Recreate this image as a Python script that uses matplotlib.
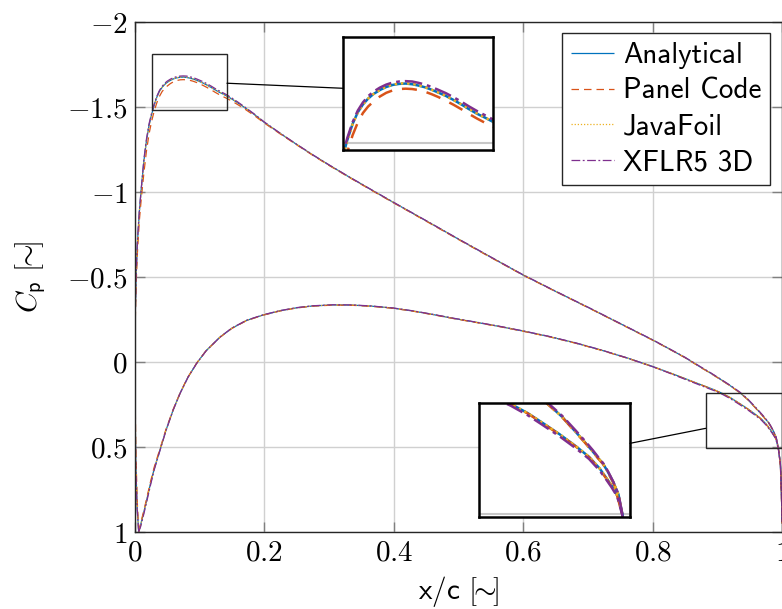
import matplotlib
matplotlib.use("Agg")
import matplotlib.pyplot as plt
from matplotlib.patches import Rectangle, ConnectionPatch

plt.rcParams["mathtext.fontset"] = "cm"
plt.rcParams["font.size"] = 21

# chordwise stations, upper surface (leading edge -> trailing edge)
x_up = [0.0060, 0.0035, 0.0015, 0.0005, 0.0002, 0.0008, 0.0020, 0.0040, 0.0070, 0.0100,
        0.0140, 0.0180, 0.0220, 0.0260, 0.0300, 0.0340, 0.0380, 0.0420, 0.0460, 0.0500,
        0.0550, 0.0600, 0.0650, 0.0700, 0.0750, 0.0800, 0.0850, 0.0900, 0.0950, 0.1000,
        0.1060, 0.1120, 0.1180, 0.1240, 0.1300, 0.1360, 0.1420, 0.1500, 0.1600, 0.1700,
        0.1850, 0.2000, 0.2250, 0.2500, 0.2750, 0.3000, 0.3300, 0.3650, 0.4000, 0.4500,
        0.5000, 0.5500, 0.6000, 0.6500, 0.7000, 0.7500, 0.8000, 0.8250, 0.8500, 0.8750,
        0.8900, 0.9050, 0.9200, 0.9350, 0.9470, 0.9580, 0.9650, 0.9710, 0.9750, 0.9790,
        0.9830, 0.9870, 0.9910, 0.9943, 0.9975, 0.9992, 1.0000]

# chordwise stations, lower surface
x_lo = [0.0060, 0.0090, 0.0130, 0.0180, 0.0240, 0.0300, 0.0389, 0.0480, 0.0592, 0.0700,
        0.0820, 0.0956, 0.1100, 0.1317, 0.1500, 0.1728, 0.1985, 0.2250, 0.2500, 0.2750,
        0.3066, 0.3350, 0.3650, 0.3993, 0.4300, 0.4600, 0.4920, 0.5300, 0.5640, 0.6002,
        0.6400, 0.6800, 0.7200, 0.7600, 0.8007, 0.8300, 0.8600, 0.8800, 0.8950, 0.9069,
        0.9200, 0.9316, 0.9450, 0.9579, 0.9680, 0.9762, 0.9810, 0.9855, 0.9900, 0.9920,
        0.9943, 0.9975, 0.9992, 1.0000]

cp_up_analytical = [1.00, 0.85, 0.60, 0.30, 0.00, -0.30, -0.50, -0.70, -0.88, -1.02,
                    -1.18, -1.30, -1.39, -1.455, -1.510, -1.556, -1.590, -1.613, -1.630, -1.643,
                    -1.655, -1.664, -1.670, -1.673, -1.674, -1.672, -1.668, -1.663, -1.656, -1.648,
                    -1.638, -1.626, -1.613, -1.599, -1.586, -1.575, -1.563, -1.545, -1.520, -1.494,
                    -1.453, -1.408, -1.342, -1.278, -1.216, -1.157, -1.089, -1.012, -0.936, -0.829,
                    -0.721, -0.615, -0.510, -0.414, -0.320, -0.224, -0.128, -0.077, -0.025, 0.034,
                    0.068, 0.104, 0.141, 0.182, 0.222, 0.267, 0.296, 0.322, 0.340, 0.357,
                    0.382, 0.410, 0.445, 0.507, 0.600, 0.780, 0.950]
cp_lo_analytical = [1.00, 0.96, 0.90, 0.82, 0.72, 0.63, 0.519, 0.405, 0.284, 0.185,
                    0.092, 0.009, -0.064, -0.145, -0.197, -0.243, -0.275, -0.300, -0.317, -0.328,
                    -0.334, -0.333, -0.327, -0.315, -0.298, -0.278, -0.255, -0.230, -0.207, -0.180,
                    -0.148, -0.111, -0.069, -0.023, 0.029, 0.070, 0.114, 0.143, 0.165, 0.185,
                    0.211, 0.239, 0.272, 0.307, 0.337, 0.370, 0.395, 0.419, 0.447, 0.473,
                    0.507, 0.600, 0.780, 0.950]

cp_up_panel = [1.00, 0.80, 0.50, 0.20, -0.05, -0.25, -0.45, -0.64, -0.83, -0.96,
               -1.11, -1.24, -1.34, -1.415, -1.475, -1.523, -1.560, -1.588, -1.607, -1.621,
               -1.636, -1.647, -1.654, -1.658, -1.659, -1.658, -1.655, -1.650, -1.643, -1.635,
               -1.624, -1.612, -1.599, -1.585, -1.572, -1.560, -1.549, -1.533, -1.510, -1.486,
               -1.447, -1.404, -1.339, -1.276, -1.214, -1.155, -1.087, -1.010, -0.934, -0.827,
               -0.719, -0.613, -0.509, -0.413, -0.319, -0.223, -0.127, -0.076, -0.024, 0.035,
               0.069, 0.105, 0.142, 0.183, 0.223, 0.268, 0.297, 0.323, 0.341, 0.358,
               0.383, 0.412, 0.447, 0.509, 0.610, 0.790, 0.950]
cp_lo_panel = [1.00, 0.95, 0.89, 0.81, 0.71, 0.62, 0.512, 0.400, 0.281, 0.183,
               0.091, 0.008, -0.064, -0.144, -0.196, -0.242, -0.274, -0.299, -0.316, -0.327,
               -0.333, -0.332, -0.326, -0.314, -0.297, -0.277, -0.254, -0.229, -0.206, -0.179,
               -0.147, -0.110, -0.068, -0.022, 0.030, 0.071, 0.115, 0.144, 0.166, 0.186,
               0.212, 0.240, 0.273, 0.308, 0.338, 0.372, 0.397, 0.421, 0.449, 0.476,
               0.509, 0.610, 0.790, 0.950]

cp_up_javafoil = [1.00, 0.84, 0.59, 0.29, 0.00, -0.31, -0.51, -0.70, -0.88, -1.01,
                  -1.17, -1.30, -1.39, -1.455, -1.509, -1.555, -1.589, -1.613, -1.630, -1.643,
                  -1.655, -1.665, -1.671, -1.674, -1.675, -1.673, -1.669, -1.663, -1.656, -1.648,
                  -1.638, -1.626, -1.613, -1.600, -1.587, -1.575, -1.564, -1.546, -1.521, -1.494,
                  -1.453, -1.408, -1.342, -1.278, -1.216, -1.156, -1.089, -1.012, -0.936, -0.829,
                  -0.721, -0.615, -0.511, -0.414, -0.320, -0.224, -0.128, -0.077, -0.025, 0.034,
                  0.068, 0.104, 0.141, 0.182, 0.222, 0.267, 0.296, 0.322, 0.340, 0.357,
                  0.382, 0.410, 0.446, 0.507, 0.600, 0.780, 0.950]
cp_lo_javafoil = [1.00, 0.96, 0.90, 0.82, 0.72, 0.63, 0.518, 0.404, 0.284, 0.185,
                  0.092, 0.009, -0.064, -0.145, -0.197, -0.243, -0.275, -0.300, -0.317, -0.328,
                  -0.334, -0.333, -0.327, -0.315, -0.298, -0.278, -0.255, -0.230, -0.207, -0.180,
                  -0.148, -0.111, -0.069, -0.023, 0.029, 0.070, 0.114, 0.143, 0.165, 0.185,
                  0.211, 0.239, 0.272, 0.307, 0.337, 0.370, 0.395, 0.419, 0.447, 0.473,
                  0.507, 0.600, 0.780, 0.950]

cp_up_xflr5 = [1.00, 0.86, 0.62, 0.32, 0.01, -0.30, -0.51, -0.71, -0.89, -1.02,
               -1.19, -1.31, -1.40, -1.463, -1.516, -1.561, -1.595, -1.619, -1.637, -1.650,
               -1.662, -1.671, -1.677, -1.680, -1.681, -1.680, -1.676, -1.671, -1.664, -1.656,
               -1.646, -1.634, -1.621, -1.607, -1.594, -1.582, -1.570, -1.551, -1.525, -1.498,
               -1.456, -1.410, -1.343, -1.279, -1.217, -1.158, -1.090, -1.013, -0.937, -0.830,
               -0.722, -0.616, -0.511, -0.415, -0.321, -0.225, -0.129, -0.078, -0.026, 0.032,
               0.066, 0.102, 0.139, 0.179, 0.219, 0.263, 0.292, 0.318, 0.337, 0.355,
               0.380, 0.409, 0.445, 0.507, 0.600, 0.780, 0.950]
cp_lo_xflr5 = [1.00, 0.97, 0.91, 0.83, 0.73, 0.635, 0.522, 0.407, 0.285, 0.186,
               0.093, 0.010, -0.063, -0.145, -0.198, -0.244, -0.276, -0.301, -0.318, -0.329,
               -0.335, -0.334, -0.328, -0.316, -0.299, -0.279, -0.256, -0.231, -0.208, -0.181,
               -0.149, -0.112, -0.070, -0.023, 0.030, 0.073, 0.118, 0.148, 0.170, 0.190,
               0.217, 0.245, 0.278, 0.313, 0.343, 0.376, 0.400, 0.424, 0.451, 0.477,
               0.509, 0.600, 0.780, 0.950]

labels = ["Analytical", "Panel Code", "JavaFoil", "XFLR5 3D"]
colors = ["#0072BD", "#D95319", "#EDB120", "#7E2F8E"]
styles = [(0, ()), (0, (6, 4)), (0, (1, 1.5)), (0, (7, 2, 1.5, 2))]
upper = [cp_up_analytical, cp_up_panel, cp_up_javafoil, cp_up_xflr5]
lower = [cp_lo_analytical, cp_lo_panel, cp_lo_javafoil, cp_lo_xflr5]

xticks = [0, 0.2, 0.4, 0.6, 0.8, 1]
yticks = [-2, -1.5, -1, -0.5, 0, 0.5, 1]

fig = plt.figure(figsize=(7.82, 6.09), dpi=100)
ax = fig.add_axes([0.1724, 0.1269, 0.8276, 0.8375])


def draw(a, lw, legend=False):
    for i in range(4):
        a.plot(x_up, upper[i], color=colors[i], linestyle=styles[i], lw=lw,
               label=labels[i] if legend else None)
        a.plot(x_lo, lower[i], color=colors[i], linestyle=styles[i], lw=lw)


draw(ax, 0.9, legend=True)
ax.set_xlim(0, 1)
ax.set_ylim(1, -2)
ax.set_xticks(xticks)
ax.set_xticklabels([f"${t:g}$" for t in xticks])
ax.set_yticks(yticks)
ax.set_yticklabels([f"${t:g}$" for t in yticks])
ax.grid(True, color="#d0d0d0", lw=1.0)
ax.set_axisbelow(True)
ax.tick_params(direction="in", length=7, width=1, color="#808080",
               top=True, right=True, pad=5)
for s in ax.spines.values():
    s.set_color("#262626")
    s.set_linewidth(1.0)
ax.set_xlabel(r"x/c $[\!\!\sim\!\!]$", family="cmss10", labelpad=5)
ax.set_ylabel(r"$C_{\mathsf{p}}\ [\!\!\sim\!\!]$", labelpad=14)

leg = ax.legend(loc="upper right", fancybox=False, framealpha=1, edgecolor="#262626",
                handlelength=1.5, handletextpad=0.3, labelspacing=0.3,
                borderpad=0.3, borderaxespad=0.4, prop={"family": "cmss10", "size": 21})
leg.get_frame().set_linewidth(1.0)

# zoom boxes
zooms = [((0.0266, 0.1424), (-1.48, -1.81), [0.4386, 0.7537, 0.1918, 0.1856],
          (0.1424, -1.638), (0.0, 0.546)),
         ((0.882, 1.0), (0.51, 0.182), [0.6125, 0.1511, 0.1931, 0.1872],
          (0.882, 0.392), (1.0, 0.646))]

for (xl, yl, pos, pa, pb) in zooms:
    ax.add_patch(Rectangle((xl[0], yl[1]), xl[1] - xl[0], yl[0] - yl[1],
                           fill=False, edgecolor="#262626", lw=1.0, zorder=5))
    ins = fig.add_axes(pos)
    draw(ins, 1.8)
    ins.set_xlim(*xl)
    ins.set_ylim(*yl)
    ins.set_xticks([t for t in xticks if xl[0] <= t <= xl[1]])
    ins.set_yticks([t for t in yticks if min(yl) <= t <= max(yl)])
    ins.tick_params(length=0, labelbottom=False, labelleft=False)
    ins.grid(True, color="#c8c8c8", lw=1.5)
    ins.set_axisbelow(True)
    for s in ins.spines.values():
        s.set_color("black")
        s.set_linewidth(1.8)
    con = ConnectionPatch(xyA=pa, coordsA=ax.transData, xyB=pb, coordsB=ins.transAxes,
                          color="black", lw=0.9)
    fig.add_artist(con)

fig.savefig("out.png", dpi=100)
